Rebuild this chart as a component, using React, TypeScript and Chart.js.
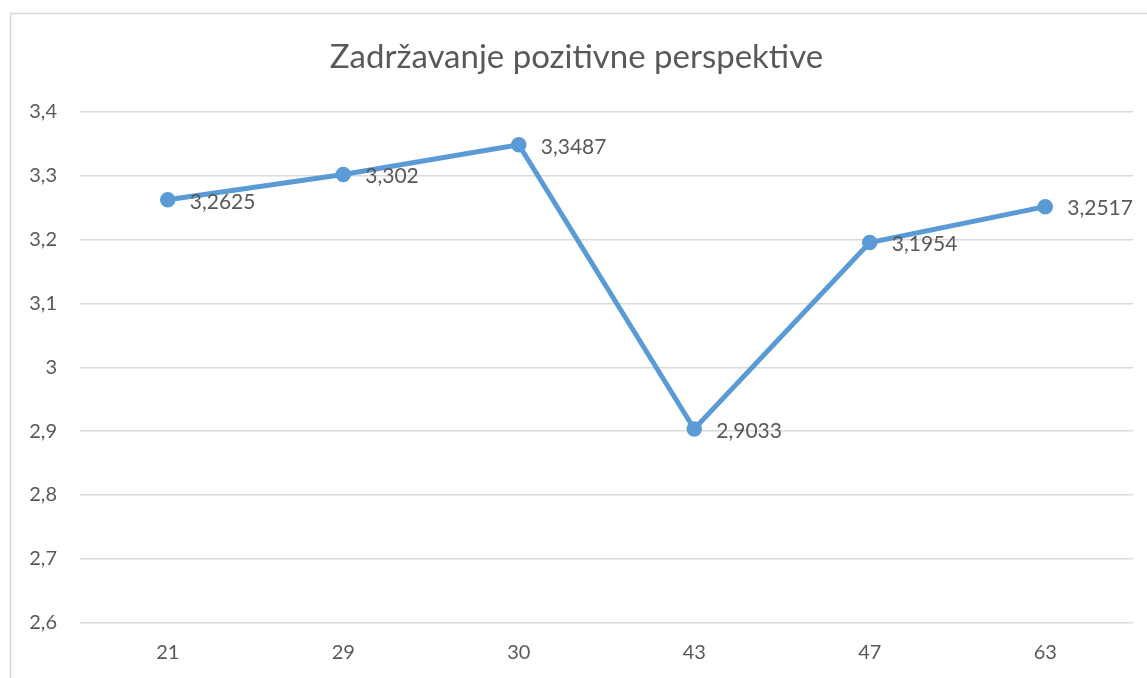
import React, { useEffect, useRef } from "react";
import { Chart, registerables } from "chart.js";

Chart.register(...registerables);

const categories = ["21", "29", "30", "43", "47", "63"];
const values = [3.2625, 3.302, 3.3487, 2.9033, 3.1954, 3.2517];
const titleText = "Zadržavanje pozitivne perspektive";
const yMin = 2.6;
const yMax = 3.4;
const yStep = 0.1;

const FONT = "Lato, 'Open Sans', sans-serif";
const TEXT = "#595959";
const GRID = "#d9d9d9";
const BLUE = "#5B9BD5";

const fmt = (v: number) => String(Number(v.toFixed(4))).replace(".", ",");

const framePlugin = {
  id: "frameAndTitle",
  beforeDraw(chart: any) {
    const ctx = chart.ctx;
    ctx.save();
    ctx.fillStyle = "#ffffff";
    ctx.fillRect(0, 0, chart.width, chart.height);
    ctx.strokeStyle = GRID;
    ctx.lineWidth = 1.5;
    ctx.beginPath();
    ctx.moveTo(10.5, chart.height + 5);
    ctx.lineTo(10.5, 13.5);
    ctx.lineTo(chart.width + 5, 13.5);
    ctx.stroke();
    ctx.fillStyle = TEXT;
    ctx.font = `33px ${FONT}`;
    ctx.textAlign = "center";
    ctx.textBaseline = "alphabetic";
    ctx.fillText(titleText, 576.5, 68);
    ctx.restore();
  },
};

const labelPlugin = {
  id: "pointLabels",
  afterDatasetsDraw(chart: any) {
    const ctx = chart.ctx;
    const meta = chart.getDatasetMeta(0);
    const data = chart.data.datasets[0].data as number[];
    ctx.save();
    ctx.fillStyle = TEXT;
    ctx.font = `21px ${FONT}`;
    ctx.textAlign = "left";
    ctx.textBaseline = "middle";
    meta.data.forEach((pt: any, i: number) => {
      ctx.fillText(fmt(data[i]), pt.x + 22, pt.y + 2);
    });
    ctx.restore();
  },
};

export default function App() {
  const ref = useRef<HTMLCanvasElement | null>(null);
  useEffect(() => {
    if (!ref.current) return;
    const chart = new Chart(ref.current, {
      type: "line",
      data: {
        labels: categories,
        datasets: [
          {
            data: values,
            borderColor: BLUE,
            backgroundColor: BLUE,
            borderWidth: 5,
            pointRadius: 7,
            pointBorderWidth: 1.5,
            pointBackgroundColor: BLUE,
            pointBorderColor: BLUE,
            tension: 0,
          },
        ],
      },
      options: {
        animation: false,
        responsive: false,
        events: [],
        layout: { padding: { left: 0, right: 14, top: 112, bottom: 0 } },
        plugins: {
          legend: { display: false },
          title: { display: false },
          tooltip: { enabled: false },
        },
        scales: {
          x: {
            type: "category",
            offset: true,
            grid: { display: false, drawTicks: false },
            border: { display: false },
            ticks: {
              color: TEXT,
              font: { family: FONT, size: 20 },
              padding: 18,
              maxRotation: 0,
            },
            afterFit(scale: any) {
              scale.height = 55.4;
            },
          },
          y: {
            min: yMin,
            max: yMax,
            grid: { color: GRID, lineWidth: 1.5, drawTicks: false },
            border: { display: false },
            ticks: {
              stepSize: yStep,
              color: TEXT,
              font: { family: FONT, size: 20 },
              padding: 23,
              callback: (v: any) => String(Number(Number(v).toFixed(1))).replace(".", ","),
            },
            afterFit(scale: any) {
              scale.width = 80;
            },
          },
        },
      },
      plugins: [framePlugin, labelPlugin],
    });
    return () => chart.destroy();
  }, []);
  return (
    <div style={{ position: "absolute", left: 0, top: 0, width: 1147, height: 678 }}>
      <canvas ref={ref} width={1147} height={678} />
    </div>
  );
}
